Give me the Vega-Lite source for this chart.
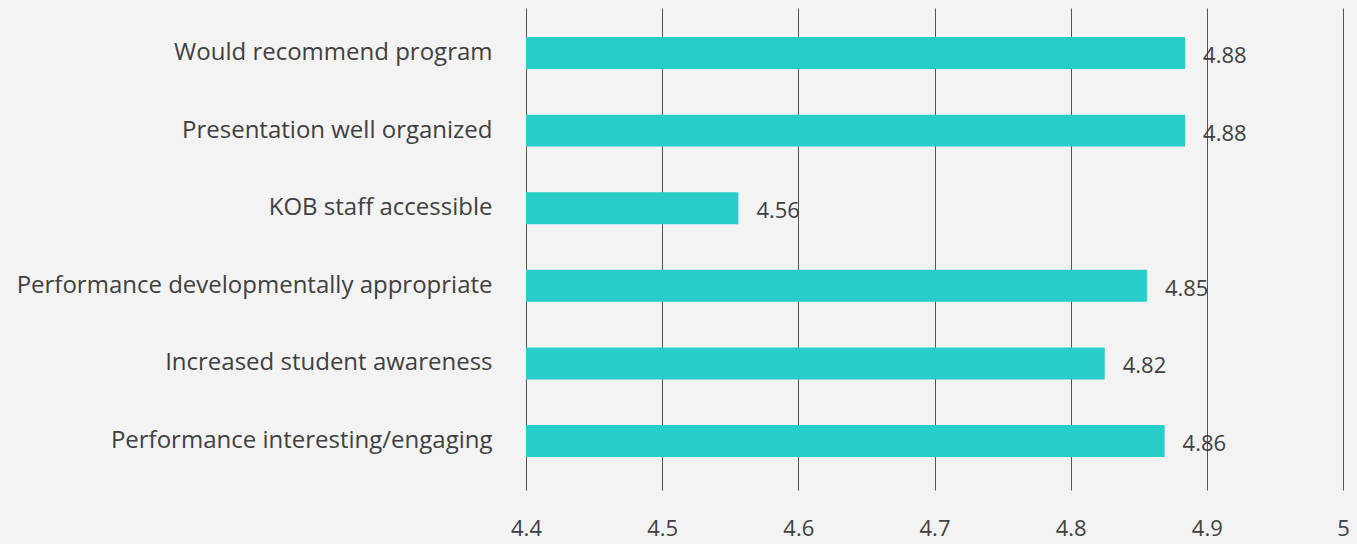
{
  "$schema": "https://vega.github.io/schema/vega-lite/v6.json",
  "autosize": "none",
  "width": 817,
  "height": 482,
  "padding": {"left": 526, "top": 8, "right": 14, "bottom": 54},
  "background": "#f3f3f3",
  "config": {"view": {"stroke": null}, "font": "Open Sans"},
  "data": {"values": [
    {"item": "Would recommend program", "score": 4.884, "label": "4.88"},
    {"item": "Presentation well organized", "score": 4.884, "label": "4.88"},
    {"item": "KOB staff accessible", "score": 4.556, "label": "4.56"},
    {"item": "Performance developmentally appropriate", "score": 4.856, "label": "4.85"},
    {"item": "Increased student awareness", "score": 4.825, "label": "4.82"},
    {"item": "Performance interesting/engaging", "score": 4.869, "label": "4.86"}
  ]},
  "encoding": {
    "y": {"field": "item", "type": "nominal", "sort": null,
      "scale": {"paddingInner": 0.588, "paddingOuter": 0.4, "align": 0.468},
      "axis": {"title": null, "domain": false, "ticks": false, "labelFontSize": 24, "labelColor": "#404040", "labelPadding": 34, "labelLimit": 600, "labelFont": "Open Sans"}},
    "x": {"field": "score", "type": "quantitative",
      "scale": {"domain": [4.4, 5], "zero": false, "nice": false},
      "axis": {"title": null, "domain": false, "ticks": false, "values": [4.4, 4.5, 4.6, 4.7, 4.8, 4.9, 5], "format": "~g", "labelFlush": false, "labelFontSize": 22, "labelColor": "#404040", "labelPadding": 28, "grid": true, "gridColor": "#555555", "gridWidth": 1, "gridOpacity": 1, "labelFont": "Open Sans"}}
  },
  "layer": [
    {"mark": {"type": "bar", "color": "#26cdc9", "clip": true}},
    {"mark": {"type": "text", "align": "left", "baseline": "middle", "dx": 18, "dy": 3, "fontSize": 22, "color": "#404040", "font": "Open Sans"},
     "encoding": {"text": {"field": "label"}}}
  ]
}
